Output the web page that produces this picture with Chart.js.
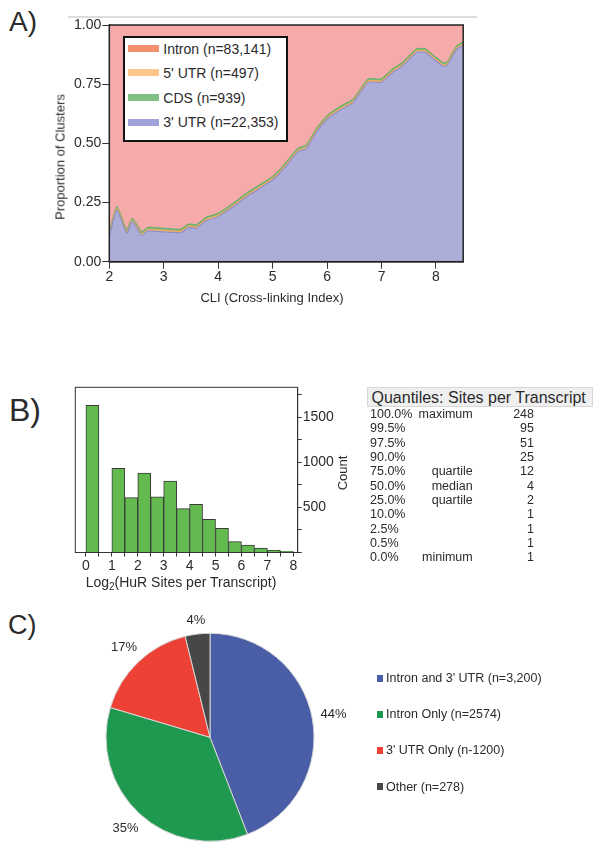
<!DOCTYPE html>
<html>
<head>
<meta charset="utf-8">
<script src="https://cdn.jsdelivr.net/npm/chart.js@4.4.1/dist/chart.umd.min.js"></script>
<style>
body{margin:0;background:#fff;}
#page{position:relative;width:604px;height:851px;overflow:hidden;font-family:"Liberation Sans",Arial,sans-serif;color:#2b2b2b;}
#page canvas{position:absolute;}
.t{position:absolute;white-space:nowrap;line-height:1;}
.rot{transform:translate(-50%,-50%) rotate(-90deg);}
.mid{transform:translate(-50%,-50%);}
.ralign{transform:translateX(-100%);}
</style>
</head>
<body>
<div id="page">
  <div class="t" style="left:9px;top:8px;font-size:28px">A)</div>
  <div class="t" style="left:9px;top:393.8px;font-size:32px">B)</div>
  <div class="t" style="left:8px;top:611.5px;font-size:27px">C)</div>
  <div style="position:absolute;left:68px;top:15.7px;width:409px;height:2px;background:#dddddd"></div>
  <canvas id="chartA" width="604" height="320" style="left:0;top:0"></canvas>
  <canvas id="chartB" width="360" height="260" style="left:0;top:340px"></canvas>
  <canvas id="chartC" width="604" height="251" style="left:0;top:600px"></canvas>
  <div style="position:absolute;left:123px;top:36px;width:165px;height:106px;border:2px solid #111;box-sizing:border-box;background:#fff"></div>
  <div class="t rot" style="left:60px;top:157px;font-size:13px">Proportion of Clusters</div>
  <div class="t mid" style="left:272px;top:297px;font-size:13px">CLI (Cross-linking Index)</div>
  <div class="t mid" style="left:181px;top:582px;font-size:14px">Log<span style="font-size:10px;position:relative;top:3px">2</span>(HuR Sites per Transcript)</div>
  <div class="t rot" style="left:342px;top:472.5px;font-size:13px">Count</div>
  <div style="position:absolute;left:367px;top:387px;width:226px;height:19.7px;background:#efefef;border:1px solid #d8d8d8;box-sizing:border-box"></div>
  <div class="t" style="left:371.5px;top:389.5px;font-size:16px">Quantiles: Sites per Transcript</div>
</div>
<script>
// Panel A: proportion of clusters by region along the CLI
const cliIndex    = [2.0, 2.14, 2.32, 2.42, 2.6, 2.7, 3.0, 3.15, 3.32, 3.46, 3.6, 3.78, 4.0, 4.28, 4.57, 4.86, 5.07, 5.29, 5.47, 5.62, 5.81, 6.02, 6.24, 6.48, 6.6, 6.76, 7.0, 7.22, 7.37, 7.65, 7.8, 7.98, 8.12, 8.2, 8.38, 8.5];
const utr3Share   = [0.106, 0.218, 0.120, 0.169, 0.110, 0.130, 0.126, 0.124, 0.123, 0.145, 0.141, 0.173, 0.190, 0.233, 0.282, 0.324, 0.359, 0.416, 0.465, 0.479, 0.549, 0.606, 0.641, 0.672, 0.711, 0.758, 0.758, 0.803, 0.824, 0.885, 0.885, 0.852, 0.828, 0.828, 0.897, 0.913];
const utr5Share   = [0.006, 0.006, 0.006, 0.006, 0.006, 0.006, 0.006, 0.006, 0.006, 0.006, 0.006, 0.006, 0.006, 0.006, 0.006, 0.006, 0.006, 0.006, 0.006, 0.006, 0.006, 0.006, 0.006, 0.006, 0.006, 0.006, 0.006, 0.006, 0.006, 0.006, 0.006, 0.006, 0.006, 0.006, 0.006, 0.006];
const cdsShare    = [0.008, 0.008, 0.008, 0.008, 0.008, 0.008, 0.008, 0.008, 0.008, 0.008, 0.008, 0.008, 0.008, 0.008, 0.008, 0.008, 0.008, 0.008, 0.008, 0.008, 0.008, 0.008, 0.008, 0.008, 0.008, 0.008, 0.008, 0.008, 0.008, 0.008, 0.008, 0.008, 0.008, 0.008, 0.008, 0.008];
const intronShare = [0.880, 0.768, 0.866, 0.817, 0.876, 0.856, 0.860, 0.862, 0.863, 0.841, 0.845, 0.813, 0.796, 0.753, 0.704, 0.662, 0.627, 0.570, 0.521, 0.507, 0.437, 0.380, 0.345, 0.314, 0.275, 0.228, 0.228, 0.183, 0.162, 0.101, 0.101, 0.134, 0.158, 0.158, 0.089, 0.073];
const regionLabels = ['Intron (n=83,141)', "5' UTR (n=497)", 'CDS (n=939)', "3' UTR (n=22,353)"];
const regionSwatch = ['#f4906f', '#fcc68b', '#82bf84', '#9fa2d8'];
const cliTicks = [2, 3, 4, 5, 6, 7, 8];
const shareTicks = [0, 0.25, 0.5, 0.75, 1];

// Panel B: histogram of log2 sites per transcript
const binMid = [0.25, 0.75, 1.25, 1.75, 2.25, 2.75, 3.25, 3.75, 4.25, 4.75, 5.25, 5.75, 6.25, 6.75, 7.25, 7.75];
const siteCounts = [1636, 0, 935, 609, 883, 617, 794, 487, 535, 369, 269, 120, 83, 50, 24, 13];
const quantLevels = ['100.0%', '99.5%', '97.5%', '90.0%', '75.0%', '50.0%', '25.0%', '10.0%', '2.5%', '0.5%', '0.0%'];
const quantNames  = ['maximum', '', '', '', 'quartile', 'median', 'quartile', '', '', '', 'minimum'];
const quantValues = [248, 95, 51, 25, 12, 4, 2, 1, 1, 1, 1];

// Panel C: transcripts by binding region
const pieLabels = ["Intron and 3' UTR (n=3,200)", 'Intron Only (n=2574)', "3' UTR Only (n-1200)", 'Other (n=278)'];
const pieCounts = [3200, 2574, 1200, 278];
const pieColors = ['#4a5ea8', '#1f9950', '#ee4136', '#474747'];

const page = document.getElementById('page');
function addText(txt, left, top, size, cls){
  let d = document.createElement('div');
  d.className = 't' + (cls ? ' ' + cls : '');
  d.style.left = left + 'px'; d.style.top = top + 'px'; d.style.fontSize = size + 'px';
  d.textContent = txt;
  page.appendChild(d);
}
function addBox(left, top, w, h, color){
  let d = document.createElement('div');
  d.style.cssText = 'position:absolute;left:'+left+'px;top:'+top+'px;width:'+w+'px;height:'+h+'px;background:'+color;
  page.appendChild(d);
}

// legend A
for(let i=0;i<regionLabels.length;i++){
  let cy = 48.3 + i*24.65;
  addBox(128.3, cy-3.5, 31, 7, regionSwatch[i]);
  addText(regionLabels[i], 163.3, cy-6.8, 14);
}
// quantile table
for(let i=0;i<quantLevels.length;i++){
  let top = 408 + i*14.33;
  addText(quantLevels[i], 370, top, 12.5);
  if(quantNames[i]) addText(quantNames[i], 472.7, top, 12.5, 'ralign');
  addText(String(quantValues[i]), 534, top, 12.5, 'ralign');
}
// pie legend
for(let i=0;i<pieLabels.length;i++){
  let cy = 678.3 + i*36.1;
  addBox(376.7, cy-3.3, 6.7, 6.7, pieColors[i]);
  addText(pieLabels[i], 386, cy-6.1, 12.5);
}

const frame = {
  id:'frame',
  afterDraw(chart, args, opts){
    const {ctx, chartArea:a} = chart;
    ctx.save();
    ctx.strokeStyle = opts.color; ctx.lineWidth = opts.width;
    ctx.strokeRect(a.left, a.top, a.width, a.height);
    ctx.restore();
  }
};
const font = {family:'"Liberation Sans", Arial, sans-serif', size:14};
Chart.defaults.font.family = font.family;

function pts(ys){ return cliIndex.map((x,i)=>({x:x, y:ys[i]})); }

new Chart(document.getElementById('chartA'), {
  type:'line',
  data:{datasets:[
    {label:"3' UTR", data:pts(utr3Share), fill:'origin', backgroundColor:'#adadd9', borderColor:'#8e8ec6', borderWidth:1.2},
    {label:"5' UTR", data:pts(utr5Share), fill:'-1', backgroundColor:'#f9c183', borderColor:'#f2a55c', borderWidth:1.2},
    {label:'CDS', data:pts(cdsShare), fill:'-1', backgroundColor:'#84c184', borderColor:'#69b06b', borderWidth:1.4},
    {label:'Intron', data:pts(intronShare), fill:'-1', backgroundColor:'#f7aaaa', borderWidth:0}
  ]},
  options:{
    responsive:false, animation:false,
    layout:{padding:{left:0, top:25, right:140.8, bottom:0}},
    elements:{point:{radius:0}, line:{tension:0.18}},
    plugins:{legend:{display:false}, tooltip:{enabled:false}, frame:{color:'#222', width:1.5}},
    scales:{
      x:{type:'linear', min:2, max:8.5,
        afterBuildTicks:s=>{s.ticks = cliTicks.map(v=>({value:v}));},
        ticks:{font:font, color:'#2b2b2b', padding:0, maxRotation:0, autoSkip:false},
        grid:{drawOnChartArea:false, tickLength:7, color:'#333'}, border:{color:'#222', width:1.5},
        afterFit:s=>{s.height = 58.3;}},
      y:{stacked:true, min:0, max:1,
        afterBuildTicks:s=>{s.ticks = shareTicks.map(v=>({value:v}));},
        ticks:{font:font, color:'#2b2b2b', padding:1, callback:v=>v.toFixed(2)},
        grid:{drawOnChartArea:false, tickLength:7, color:'#333'}, border:{color:'#222', width:1.5},
        afterFit:s=>{s.width = 109.3;}}
    }
  },
  plugins:[frame]
});

new Chart(document.getElementById('chartB'), {
  type:'bar',
  data:{datasets:[{data:binMid.map((x,i)=>({x:x, y:siteCounts[i]})), backgroundColor:'#63bb50', borderColor:'#3a3a3a', borderWidth:1, categoryPercentage:1, barPercentage:1}]},
  options:{
    responsive:false, animation:false,
    layout:{padding:{left:75.3, top:47.3, right:0, bottom:0}},
    plugins:{legend:{display:false}, tooltip:{enabled:false}, frame:{color:'#333', width:1}},
    scales:{
      x:{type:'linear', min:-0.41, max:8.17, offset:false,
        ticks:{stepSize:0.5, includeBounds:false, autoSkip:false, maxRotation:0, font:font, color:'#2b2b2b', padding:1,
          callback:v=>Number.isInteger(v) ? String(v) : ''},
        grid:{drawOnChartArea:false, offset:false, tickLength:4, color:'#333'}, border:{color:'#333'},
        afterFit:s=>{s.height = 47.5;}},
      y:{position:'right', min:0, max:1835,
        ticks:{stepSize:250, includeBounds:false, autoSkip:false, font:font, color:'#2b2b2b', padding:1,
          callback:v=>(v>0 && v%500===0) ? String(v) : ''},
        grid:{drawOnChartArea:false, tickLength:4, color:'#333'}, border:{color:'#333'},
        afterFit:s=>{s.width = 62.3;}}
    }
  },
  plugins:[frame]
});

const pctLabels = {
  id:'pctLabels',
  afterDatasetsDraw(chart){
    const {ctx} = chart;
    const meta = chart.getDatasetMeta(0);
    const total = pieCounts.reduce((a,b)=>a+b, 0);
    ctx.save();
    ctx.font = '13px "Liberation Sans", Arial, sans-serif';
    ctx.fillStyle = '#2b2b2b';
    ctx.textAlign = 'center'; ctx.textBaseline = 'middle';
    meta.data.forEach((arc, i)=>{
      const txt = Math.round(pieCounts[i]/total*100) + '%';
      const ang = (arc.startAngle + arc.endAngle)/2;
      const c = Math.cos(ang), s = Math.sin(ang);
      const w = ctx.measureText(txt).width;
      const d = arc.outerRadius + 8 + Math.abs(c)*w/2 + Math.abs(s)*5;
      ctx.fillText(txt, arc.x + c*d, arc.y + s*d);
    });
    ctx.restore();
  }
};

new Chart(document.getElementById('chartC'), {
  type:'pie',
  data:{labels:pieLabels, datasets:[{data:pieCounts, backgroundColor:pieColors, borderColor:'#d6d6d6', borderWidth:1}]},
  options:{
    responsive:false, animation:false,
    layout:{padding:{left:105.5, top:32.8, right:289.5, bottom:9.2}},
    plugins:{legend:{display:false}, tooltip:{enabled:false}}
  },
  plugins:[pctLabels]
});
</script>
</body>
</html>
